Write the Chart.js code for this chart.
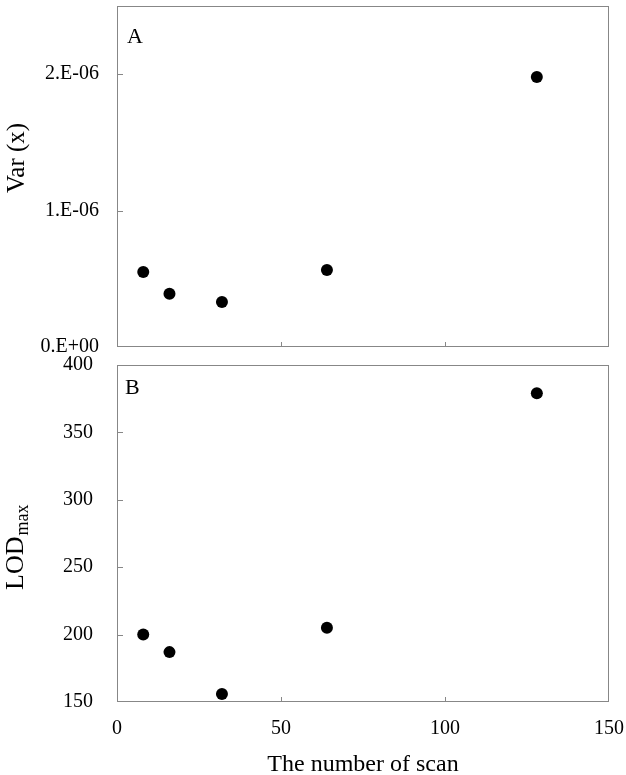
<!DOCTYPE html>
<html>
<head>
<meta charset="utf-8">
<script src="https://cdn.jsdelivr.net/npm/chart.js@4.4.1/dist/chart.umd.min.js"></script>
<style>
  body { margin: 0; background: #fff; width: 626px; height: 775px; position: relative; overflow: hidden; }
  #wrapA { position: absolute; left: 0; top: 0; width: 626px; height: 362px; }
  #wrapB { position: absolute; left: 0; top: 355px; width: 626px; height: 430px; }
</style>
</head>
<body>
<div id="wrapA"><canvas id="chartA"></canvas></div>
<div id="wrapB"><canvas id="chartB"></canvas></div>
<script>
// number of scans (x) and the two measured series
const scans = [8, 16, 32, 64, 128];
const varX = [5.5e-7, 3.9e-7, 3.3e-7, 5.65e-7, 1.98e-6];
const lodMax = [200, 187, 156, 205, 379];

// tick values / labels
const xTicks = [0, 50, 100, 150];
const yTicksA = [0, 1e-6, 2e-6];
const yTickLabelsA = ['0.E+00', '1.E-06', '2.E-06'];
const yTicksB = [150, 200, 250, 300, 350, 400];
const yTickLabelsB = ['150', '200', '250', '300', '350', '400'];

const serif = '"Liberation Serif", "Times New Roman", serif';

// frame, inside tick marks, panel letter and the rotated y title
const panelDeco = {
  id: 'panelDeco',
  afterDraw(chart, args, o) {
    const ctx = chart.ctx, a = chart.chartArea;
    const sx = chart.scales.x, sy = chart.scales.y;
    ctx.save();
    ctx.strokeStyle = '#878787';
    ctx.lineWidth = 1;
    ctx.strokeRect(a.left + 0.5, a.top + 0.5, a.width - 1, a.height - 1);
    ctx.beginPath();
    sx.ticks.forEach(t => {
      const px = Math.round(sx.getPixelForValue(t.value)) + 0.5;
      if (px > a.left + 2 && px < a.right - 2) { ctx.moveTo(px, a.bottom); ctx.lineTo(px, a.bottom - 5); }
    });
    sy.ticks.forEach(t => {
      const py = Math.round(sy.getPixelForValue(t.value)) + 0.5;
      if (py > a.top + 2 && py < a.bottom - 2) { ctx.moveTo(a.left, py); ctx.lineTo(a.left + 6, py); }
    });
    ctx.stroke();

    ctx.fillStyle = '#000';
    ctx.font = '22px ' + serif;
    ctx.textBaseline = 'alphabetic';
    ctx.textAlign = 'left';
    ctx.fillText(o.letter, a.left + o.letterDx, a.top + o.letterDy);

    ctx.translate(o.titleX, o.titleY);
    ctx.rotate(-Math.PI / 2);
    ctx.font = o.titleFont;
    ctx.fillText(o.title, 0, 0);
    if (o.sub) {
      const w = ctx.measureText(o.title).width;
      ctx.font = o.subFont;
      ctx.fillText(o.sub, w + 1, 5);
    }
    ctx.restore();
  }
};

function pts(ys) {
  return scans.map((x, i) => ({ x: x, y: ys[i] }));
}

function dataset(ys) {
  return {
    data: pts(ys),
    showLine: false,
    pointRadius: 6,
    pointHoverRadius: 6,
    pointBorderWidth: 0,
    backgroundColor: '#000',
    borderColor: '#000',
    clip: false
  };
}

// keep the plot box where it is: no extra room for half labels
function noPad(s) {
  s.paddingTop = 0; s.paddingBottom = 0; s.paddingLeft = 0; s.paddingRight = 0;
}

// top panel: Var (x)
new Chart(document.getElementById('chartA').getContext('2d'), {
  type: 'scatter',
  data: { datasets: [dataset(varX)] },
  options: {
    responsive: true,
    maintainAspectRatio: false,
    animation: false,
    layout: { padding: { top: 2, right: 17, left: 0, bottom: 0 } },
    plugins: {
      legend: { display: false },
      tooltip: { enabled: false },
      panelDeco: { letter: 'A', letterDx: 10, letterDy: 37, title: 'Var (x)', titleFont: '25px ' + serif, titleX: 24, titleY: 193 }
    },
    scales: {
      x: {
        type: 'linear', min: 0, max: 150,
        afterBuildTicks: s => { s.ticks = xTicks.map(v => ({ value: v })); },
        afterFit: s => { s.height = 15; noPad(s); },
        ticks: { display: false },
        grid: { display: false, drawTicks: false },
        border: { display: false }
      },
      y: {
        type: 'linear', min: 0, max: 2.5e-6,
        afterBuildTicks: s => { s.ticks = yTicksA.map(v => ({ value: v })); },
        afterFit: s => { s.width = 117; noPad(s); },
        ticks: {
          callback: (v, i) => yTickLabelsA[i],
          color: '#000', padding: 18,
          font: { family: serif, size: 20 }
        },
        grid: { display: false, drawTicks: false },
        border: { display: false }
      }
    }
  },
  plugins: [panelDeco]
});

// bottom panel: LOD max
new Chart(document.getElementById('chartB').getContext('2d'), {
  type: 'scatter',
  data: { datasets: [dataset(lodMax)] },
  options: {
    responsive: true,
    maintainAspectRatio: false,
    animation: false,
    layout: { padding: { top: 10, right: 17, left: 0, bottom: 0 } },
    plugins: {
      legend: { display: false },
      tooltip: { enabled: false },
      panelDeco: { letter: 'B', letterDx: 8, letterDy: 29, title: 'LOD', sub: 'max', titleFont: '26px ' + serif, subFont: '18px ' + serif, titleX: 23, titleY: 235 }
    },
    scales: {
      x: {
        type: 'linear', min: 0, max: 150,
        afterBuildTicks: s => { s.ticks = xTicks.map(v => ({ value: v })); },
        afterFit: s => { s.height = 83; noPad(s); },
        ticks: {
          color: '#000', padding: 15, maxRotation: 0,
          font: { family: serif, size: 20 }
        },
        title: {
          display: true, text: 'The number of scan', color: '#000',
          font: { family: serif, size: 24 },
          padding: { top: 0, bottom: 6 }
        },
        grid: { display: false, drawTicks: false },
        border: { display: false }
      },
      y: {
        type: 'linear', min: 150, max: 400,
        afterBuildTicks: s => { s.ticks = yTicksB.map(v => ({ value: v })); },
        afterFit: s => { s.width = 117; noPad(s); },
        ticks: {
          callback: (v, i) => yTickLabelsB[i],
          color: '#000', padding: 24,
          font: { family: serif, size: 20 }
        },
        grid: { display: false, drawTicks: false },
        border: { display: false }
      }
    }
  },
  plugins: [panelDeco]
});
</script>
</body>
</html>
